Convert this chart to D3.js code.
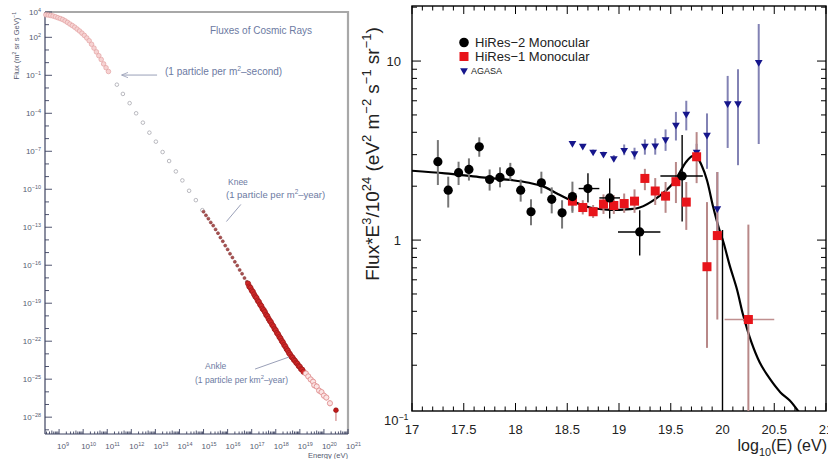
<!DOCTYPE html>
<html>
<head>
<meta charset="utf-8">
<script src="https://cdn.jsdelivr.net/npm/d3@7"></script>
<style>
body { margin: 0; background: #fff; }
svg { display: block; }
text { font-family: "Liberation Sans", Arial, sans-serif; }
</style>
</head>
<body>
<svg id="chart" width="828" height="459"></svg>
<script>
// ---------- left panel: all-particle spectrum, log10(E/eV) vs log10(flux)
var lowE = [8.45,8.55,8.65,8.75,8.85,8.95,9.05,9.15,9.25,9.35,9.45,9.55,9.65,9.75,9.85,9.95,10.05,10.15,10.25,10.35,10.45,10.55,10.65,10.75,10.85,10.95,11.05];
var lowF = [3.78,3.76,3.73,3.68,3.62,3.55,3.48,3.41,3.30,3.18,3.05,2.93,2.80,2.65,2.50,2.33,2.15,1.95,1.73,1.45,1.15,0.85,0.55,0.25,-0.10,-0.40,-0.70];

var midE = [11.40,11.65,11.93,12.20,12.48,12.75,13.02,13.30,13.57,13.85,14.12,14.40,14.68,14.95];
var midF = [-1.74,-2.47,-3.20,-4.00,-4.74,-5.53,-6.24,-7.06,-7.77,-8.59,-9.30,-10.12,-10.86,-11.65];

var kneeE = [15.0,15.1,15.2,15.3,15.4,15.5,15.6,15.7,15.8,15.9,16.0,16.1,16.2,16.3,16.4,16.5,16.6,16.7,16.8];
var kneeF = [-11.77,-12.06,-12.32,-12.62,-12.87,-13.17,-13.47,-13.81,-14.11,-14.45,-14.75,-15.09,-15.39,-15.73,-16.03,-16.37,-16.67,-17.01,-17.31];

var denseE = [16.85,16.90,16.95,17.00,17.05,17.10,17.15,17.20,17.25,17.30,17.35,17.40,17.45,17.50,17.55,17.60,17.65,17.70,17.75,17.80,17.85,17.90,17.95,18.00,18.05,18.10,18.15,18.20,18.25,18.30,18.35,18.40,18.45,18.50,18.55,18.60,18.65,18.70,18.75,18.80,18.85,18.90,18.95,19.00,19.05,19.10,19.15];
var denseF = [-17.45,-17.68,-17.78,-17.99,-18.10,-18.30,-18.47,-18.58,-18.79,-18.90,-19.10,-19.22,-19.43,-19.54,-19.70,-19.91,-20.02,-20.22,-20.38,-20.50,-20.70,-20.82,-21.03,-21.14,-21.35,-21.46,-21.66,-21.78,-21.98,-22.10,-22.30,-22.42,-22.62,-22.74,-22.93,-23.05,-23.22,-23.30,-23.46,-23.55,-23.70,-23.78,-23.95,-24.02,-24.20,-24.25,-24.42];

var uheE = [19.25,19.35,19.45,19.55,19.60,19.70,19.80,19.90,20.00,20.10,20.25];
var uheF = [-24.55,-24.78,-25.02,-25.20,-25.48,-25.58,-25.90,-26.02,-26.30,-26.45,-26.90];

var topE = [20.50];
var topF = [-27.45];
var topLo = [-28.30];

var yExpLabelsL = [4, 2, -1, -4, -7, -10, -13, -16, -19, -22, -25, -28];
var xExpLabelsL = [9,10,11,12,13,14,15,16,17,18,19,20,21];

// ---------- right panel: HiRes / AGASA, E^3 flux
var hr2E  = [17.25,17.35,17.45,17.55,17.65,17.75,17.85,17.95,18.05,18.15,18.25,18.35,18.45,18.55,18.70,18.91,19.20,19.61,20.00];
var hr2V  = [2.74,1.90,2.38,2.48,3.32,2.18,2.24,2.41,1.90,1.44,2.09,1.69,1.42,1.75,1.94,1.72,1.11,2.28,0.05];
var hr2Lo = [2.03,1.52,2.03,2.15,2.92,1.89,1.97,2.15,1.64,1.21,1.82,1.41,1.16,1.42,1.62,1.32,0.82,1.27,0.02];
var hr2Hi = [3.62,2.26,2.74,2.86,3.75,2.48,2.55,2.70,2.18,1.69,2.41,1.97,1.67,2.12,2.36,2.21,1.47,3.86,1.14];
var hr2ELo = [null,null,null,null,null,null,null,null,null,null,null,null,null,null,18.61,18.81,18.99,19.40,null];
var hr2EHi = [null,null,null,null,null,null,null,null,null,null,null,null,null,null,18.81,19.01,19.40,19.81,null];

var hr1E  = [18.55,18.65,18.75,18.85,18.95,19.05,19.15,19.25,19.35,19.45,19.55,19.65,19.75,19.85,19.95,20.25];
var hr1V  = [1.65,1.52,1.44,1.59,1.56,1.60,1.65,2.21,1.88,1.76,2.12,1.63,2.92,0.71,1.06,0.36];
var hr1Lo = [1.45,1.39,1.33,1.40,1.40,1.42,1.42,1.90,1.57,1.42,1.61,1.14,2.08,0.25,0.36,0.05];
var hr1Hi = [1.88,1.67,1.57,1.80,1.78,1.82,1.92,2.50,2.22,2.11,2.73,2.11,4.01,1.63,2.40,1.22];
var hr1ELo = [null,null,null,null,null,null,null,null,null,null,null,null,null,null,null,20.02];
var hr1EHi = [null,null,null,null,null,null,null,null,null,null,null,null,null,null,null,20.50];

var agE  = [18.55,18.65,18.75,18.85,18.95,19.05,19.15,19.25,19.35,19.45,19.55,19.65,19.75,19.85,19.95,20.05,20.15,20.35];
var agV  = [3.47,3.35,3.11,3.02,2.86,3.18,3.05,3.35,3.37,3.65,4.39,5.06,3.11,3.86,1.50,5.80,5.80,9.84];
var agLo = [3.38,3.27,3.03,2.94,2.76,2.98,2.82,3.00,3.00,3.15,3.60,4.10,2.80,2.50,1.10,3.27,2.62,3.44];
var agHi = [3.56,3.44,3.20,3.12,2.98,3.42,3.28,3.65,3.70,4.15,5.20,6.00,3.45,5.10,2.40,8.26,9.00,16.1];

var fitE = [17.0,17.32,17.65,17.97,18.13,18.29,18.40,18.56,18.72,18.88,19.04,19.20,19.36,19.52,19.65,19.71,19.75,19.80,19.85,19.91,19.97,20.01,20.07,20.14,20.20,20.28,20.36,20.46,20.56,20.65,20.73,20.78];
var fitV = [2.44,2.36,2.25,2.16,2.09,1.97,1.82,1.64,1.52,1.48,1.48,1.52,1.71,2.07,2.74,2.95,2.92,2.60,2.16,1.53,1.14,0.97,0.72,0.53,0.38,0.268,0.207,0.167,0.141,0.127,0.111,0.10];

var xMajorR = [17,17.5,18,18.5,19,19.5,20,20.5,21];
var xLabelsR = ['17','17.5','18','18.5','19','19.5','20','20.5','21'];
var yMajorR = [1, 10];
var yLabelsR = ['1', '10'];

var legendNames = ['HiRes\u22122 Monocular', 'HiRes\u22121 Monocular', 'AGASA'];

var svg = d3.select('#chart');
svg.append('rect').attr('width', 828).attr('height', 459).attr('fill', '#fff');
var defs = svg.append('defs');

function p10(v) { return Math.pow(10, v); }

// text with super/subscripts: parts = [[str, 'sup'|'sub'|undefined], ...]
function rich(sel, parts, size) {
  var off = 0;
  parts.forEach(function (p) {
    var kind = p[1] || 'n';
    var target = kind == 'sup' ? -size * 0.42 : (kind == 'sub' ? size * 0.3 : 0);
    sel.append('tspan')
      .attr('dy', target - off)
      .attr('font-size', kind == 'n' ? size : size * 0.68)
      .text(p[0]);
    off = target;
  });
}

/* ================= LEFT ================= */
var xL = d3.scaleLog().domain([p10(8.415), 1e21]).range([45, 348]);
var yL = d3.scaleLog().domain([p10(-29.33), 1e4]).range([434, 12]);
var axL = '#3c4260';
var annoCol = '#6c7aa2';
var gL = svg.append('g');

var x0 = xL.range()[0], x1 = xL.range()[1], y0 = yL.range()[0], y1 = yL.range()[1];
gL.append('path')
  .attr('d', 'M' + x0 + ',' + y1 + 'H' + x1 + 'V' + y0)
  .attr('fill', 'none').attr('stroke', '#a8a8a8').attr('stroke-width', 2.2);
gL.append('line').attr('x1', x0).attr('x2', x0).attr('y1', y1).attr('y2', y0).attr('stroke', axL).attr('stroke-width', 1.2);
gL.append('line').attr('x1', x0).attr('x2', x1).attr('y1', y0).attr('y2', y0).attr('stroke', axL).attr('stroke-width', 1.2);

// x ticks
for (var k = 8; k <= 20; k++) {
  for (var m = 1; m <= 9; m++) {
    var v = m * Math.pow(10, k);
    if (v < xL.domain()[0] || v > xL.domain()[1]) continue;
    gL.append('line').attr('x1', xL(v)).attr('x2', xL(v))
      .attr('y1', y0).attr('y2', y0 - (m == 1 ? 5 : (m == 5 ? 3.5 : 2.5)))
      .attr('stroke', axL).attr('stroke-width', 0.9);
  }
}
gL.append('line').attr('x1', xL(1e21)).attr('x2', xL(1e21)).attr('y1', y0).attr('y2', y0 - 5).attr('stroke', axL);
xExpLabelsL.forEach(function (e) {
  var t = gL.append('text').attr('x', xL(p10(e)) - 2).attr('y', 449)
    .attr('font-size', 8).attr('fill', '#555a70');
  rich(t, [['10'], [String(e), 'sup']], 8);
});

// y ticks
for (var k2 = -29; k2 <= 4; k2++) {
  var major = yExpLabelsL.indexOf(k2) >= 0;
  gL.append('line').attr('x1', x0).attr('x2', x0 + (major ? 7 : 4))
    .attr('y1', yL(p10(k2))).attr('y2', yL(p10(k2)))
    .attr('stroke', axL).attr('stroke-width', 0.9);
}
yExpLabelsL.forEach(function (e) {
  var t = gL.append('text').attr('x', 41).attr('y', yL(p10(e)) + 3)
    .attr('text-anchor', 'end').attr('font-size', 8).attr('fill', '#555a70');
  rich(t, [['10'], [String(e).replace('-', '\u2212'), 'sup']], 8);
});

// axis titles
var ty = gL.append('text').attr('transform', 'translate(19,12) rotate(-90)')
  .attr('text-anchor', 'end').attr('font-size', 7.5).attr('fill', '#555a70');
rich(ty, [['Flux (m'], ['2', 'sup'], [' sr s GeV)'], ['\u22121', 'sup']], 7.5);
gL.append('text').attr('x', 348).attr('y', 458).attr('text-anchor', 'end')
  .attr('font-size', 7.5).attr('fill', '#555a70').text('Energy (eV)');

// markers
function dotsL(E, F, r, fill, stroke, sw) {
  gL.append('g').selectAll('circle').data(E).enter().append('circle')
    .attr('cx', function (d) { return xL(p10(d)); })
    .attr('cy', function (d, i) { return yL(p10(F[i])); })
    .attr('r', r).attr('fill', fill).attr('stroke', stroke).attr('stroke-width', sw);
}
dotsL(lowE, lowF, 2.3, '#f6d2d2', '#e2a0a0', 0.7);
dotsL(midE, midF, 1.8, '#fff', '#a8a8b0', 0.8);
dotsL(kneeE, kneeF, 1.5, '#a85050', '#8a3a3a', 0.6);
dotsL(denseE, denseF, 2.6, '#d02828', '#9c1818', 0.7);
gL.append('g').selectAll('line').data(uheE).enter().append('line')
  .attr('x1', function (d) { return xL(p10(d)); }).attr('x2', function (d) { return xL(p10(d)); })
  .attr('y1', function (d, i) { return yL(p10(uheF[i] + 0.25)); })
  .attr('y2', function (d, i) { return yL(p10(uheF[i] - 0.25)); })
  .attr('stroke', '#e0a8a8').attr('stroke-width', 0.8);
dotsL(uheE, uheF, 2.6, '#fbe4e4', '#e09090', 0.9);
gL.append('line').attr('x1', xL(p10(topE[0]))).attr('x2', xL(p10(topE[0])))
  .attr('y1', yL(p10(topF[0]))).attr('y2', yL(p10(topLo[0])))
  .attr('stroke', '#c05a5a').attr('stroke-width', 0.9);
dotsL(topE, topF, 2.4, '#c01818', '#901010', 0.6);

// annotations
gL.append('text').attr('x', 261).attr('y', 34).attr('text-anchor', 'middle')
  .attr('font-size', 10).attr('fill', annoCol).text('Fluxes of Cosmic Rays');

defs.append('marker').attr('id', 'ah').attr('viewBox', '0 0 10 10')
  .attr('refX', 9).attr('refY', 5).attr('markerWidth', 7).attr('markerHeight', 7)
  .attr('orient', 'auto')
  .append('path').attr('d', 'M0,1L10,5L0,9').attr('fill', 'none').attr('stroke', '#9aa0b8').attr('stroke-width', 1.2);
gL.append('line').attr('x1', xL(p10(13.07))).attr('x2', xL(p10(11.62)))
  .attr('y1', yL(p10(-0.98))).attr('y2', yL(p10(-0.98)))
  .attr('stroke', '#9aa0b8').attr('stroke-width', 1).attr('marker-end', 'url(#ah)');
var ta = gL.append('text').attr('x', 165).attr('y', 75).attr('font-size', 10).attr('fill', annoCol);
rich(ta, [['(1 particle per m'], ['2', 'sup'], ['\u2013second)']], 10);

gL.append('text').attr('x', 228).attr('y', 185).attr('font-size', 8.5).attr('fill', annoCol).text('Knee');
var tk = gL.append('text').attr('x', 226).attr('y', 198).attr('font-size', 9.5).attr('fill', annoCol);
rich(tk, [['(1 particle per m'], ['2', 'sup'], ['\u2013year)']], 9.5);
gL.append('line').attr('x1', xL(p10(16.55))).attr('x2', xL(p10(15.95)))
  .attr('y1', yL(p10(-11.2))).attr('y2', yL(p10(-12.55)))
  .attr('stroke', '#9aa0b8').attr('stroke-width', 1);

gL.append('text').attr('x', 205).attr('y', 369).attr('font-size', 8.5).attr('fill', annoCol).text('Ankle');
var tn = gL.append('text').attr('x', 195).attr('y', 383).attr('font-size', 8.5).attr('fill', annoCol);
rich(tn, [['(1 particle per km'], ['2', 'sup'], ['\u2013year)']], 8.5);
gL.append('line').attr('x1', xL(p10(17.14))).attr('x2', xL(p10(18.55)))
  .attr('y1', yL(p10(-24.2))).attr('y2', yL(p10(-23.25)))
  .attr('stroke', '#9aa0b8').attr('stroke-width', 1);

/* ================= RIGHT ================= */
var xR = d3.scaleLinear().domain([17, 21]).range([412, 826]);
var yR = d3.scaleLog().domain([0.111, 20.3]).range([411, 6]);
var rx0 = xR.range()[0], rx1 = xR.range()[1], ry0 = yR.range()[0], ry1 = yR.range()[1];
var gR = svg.append('g');

defs.append('clipPath').attr('id', 'clipR').append('rect')
  .attr('x', rx0).attr('y', ry1).attr('width', rx1 - rx0).attr('height', ry0 - ry1);

// ticks, inward on all four sides
var xMinorR = d3.range(170, 211).map(function (d) { return d / 10; })
  .filter(function (d) { return xMajorR.indexOf(d) < 0; });
function xTick(d, len) {
  gR.append('line').attr('x1', xR(d)).attr('x2', xR(d)).attr('y1', ry0).attr('y2', ry0 - len).attr('stroke', '#000');
  gR.append('line').attr('x1', xR(d)).attr('x2', xR(d)).attr('y1', ry1).attr('y2', ry1 + len).attr('stroke', '#000');
}
xMajorR.forEach(function (d) { xTick(d, 8); });
xMinorR.forEach(function (d) { xTick(d, 4.5); });
xLabelsR.forEach(function (s, i) {
  gR.append('text').attr('x', xR(xMajorR[i])).attr('y', 434).attr('text-anchor', 'middle')
    .attr('font-size', 13).attr('fill', '#222').text(s);
});

var yMinorR = [0.2,0.3,0.4,0.5,0.6,0.7,0.8,0.9,2,3,4,5,6,7,8,9,20];
function yTick(d, len) {
  gR.append('line').attr('x1', rx0).attr('x2', rx0 + len).attr('y1', yR(d)).attr('y2', yR(d)).attr('stroke', '#000');
  gR.append('line').attr('x1', rx1).attr('x2', rx1 - len).attr('y1', yR(d)).attr('y2', yR(d)).attr('stroke', '#000');
}
yMajorR.forEach(function (d) { yTick(d, 9); });
yMinorR.forEach(function (d) { yTick(d, 5); });
yLabelsR.forEach(function (s, i) {
  gR.append('text').attr('x', 401).attr('y', yR(yMajorR[i]) + 5).attr('text-anchor', 'end')
    .attr('font-size', 13).attr('fill', '#222').text(s);
});
var tb = gR.append('text').attr('x', 384).attr('y', ry0 + 14).attr('font-size', 13).attr('fill', '#222');
rich(tb, [['10'], ['\u22121', 'sup']], 13);

// frame
gR.append('rect').attr('x', rx0).attr('y', ry1).attr('width', rx1 - rx0).attr('height', ry0 - ry1)
  .attr('fill', 'none').attr('stroke', '#000').attr('stroke-width', 1.4);

// axis titles
var tyR = gR.append('text').attr('transform', 'translate(379,154) rotate(-90)')
  .attr('text-anchor', 'middle').attr('font-size', 19).attr('fill', '#222');
rich(tyR, [['Flux*E'], ['3', 'sup'], ['/10'], ['24', 'sup'], [' (eV'], ['2', 'sup'], [' m'], ['\u22122', 'sup'], [' s'], ['\u22121', 'sup'], [' sr'], ['\u22121', 'sup'], [')']], 19);
var txR = gR.append('text').attr('x', 827).attr('y', 451).attr('text-anchor', 'end')
  .attr('font-size', 16).attr('fill', '#222');
rich(txR, [['log'], ['10', 'sub'], ['(E) (eV)']], 16);

// data
var plot = gR.append('g').attr('clip-path', 'url(#clipR)');

plot.append('path')
  .datum(fitE.map(function (e, i) { return [e, fitV[i]]; }))
  .attr('d', d3.line().x(function (d) { return xR(d[0]); }).y(function (d) { return yR(d[1]); }).curve(d3.curveCatmullRom))
  .attr('fill', 'none').attr('stroke', '#000').attr('stroke-width', 2.2);

function vBars(E, lo, hi, col, w) {
  E.forEach(function (e, i) {
    plot.append('line').attr('x1', xR(e)).attr('x2', xR(e))
      .attr('y1', yR(hi[i])).attr('y2', yR(Math.max(lo[i], 0.02)))
      .attr('stroke', typeof col == 'function' ? col(i) : col).attr('stroke-width', typeof w == 'function' ? w(i) : w);
  });
}
function xBars(E, V, eLo, eHi, col) {
  E.forEach(function (e, i) {
    if (eLo[i] == null) return;
    plot.append('line').attr('x1', xR(eLo[i])).attr('x2', xR(eHi[i]))
      .attr('y1', yR(V[i])).attr('y2', yR(V[i])).attr('stroke', col).attr('stroke-width', 1.4);
  });
}

vBars(agE, agLo, agHi, '#8282b4', 2);
vBars(hr1E, hr1Lo, hr1Hi, '#b88888', 2);
xBars(hr1E, hr1V, hr1ELo, hr1EHi, '#c09090');
// HiRes-2: points with horizontal bins get thin black bars
function crisp(i) { return hr2ELo[i] != null || hr2V[i] < yR.domain()[0]; }
vBars(hr2E, hr2Lo, hr2Hi,
  function (i) { return crisp(i) ? '#000' : '#777'; },
  function (i) { return crisp(i) ? 1.4 : 2; });
xBars(hr2E, hr2V, hr2ELo, hr2EHi, '#000');

var tri = d3.symbol().type(d3.symbolTriangle).size(26);
plot.append('g').selectAll('path').data(agE).enter().append('path')
  .attr('d', tri)
  .attr('transform', function (d, i) { return 'translate(' + xR(d) + ',' + yR(agV[i]) + ') rotate(180)'; })
  .attr('fill', '#16168c');
plot.append('g').selectAll('rect').data(hr1E).enter().append('rect')
  .attr('x', function (d) { return xR(d) - 4.5; })
  .attr('y', function (d, i) { return yR(hr1V[i]) - 4.5; })
  .attr('width', 9).attr('height', 9).attr('fill', '#e8141a');
plot.append('g').selectAll('circle').data(hr2E).enter().append('circle')
  .attr('cx', function (d) { return xR(d); })
  .attr('cy', function (d, i) { return yR(hr2V[i]); })
  .attr('r', 4.6).attr('fill', '#000');

// legend
var lg = gR.append('g');
var legY = [42.5, 56.5, 70.5];
lg.append('circle').attr('cx', 464).attr('cy', legY[0]).attr('r', 4.8).attr('fill', '#000');
lg.append('rect').attr('x', 459.5).attr('y', legY[1] - 4.5).attr('width', 9).attr('height', 9).attr('fill', '#e8141a');
lg.append('path').attr('d', tri).attr('transform', 'translate(464,' + legY[2] + ') rotate(180)').attr('fill', '#16168c');
lg.append('text').attr('x', 475).attr('y', legY[0] + 4.7).attr('font-size', 13).attr('fill', '#222').text(legendNames[0]);
lg.append('text').attr('x', 475).attr('y', legY[1] + 4.7).attr('font-size', 13).attr('fill', '#222').text(legendNames[1]);
lg.append('text').attr('x', 471).attr('y', legY[2] + 3.5).attr('font-size', 9).attr('fill', '#222').text(legendNames[2]);
</script>
</body>
</html>
